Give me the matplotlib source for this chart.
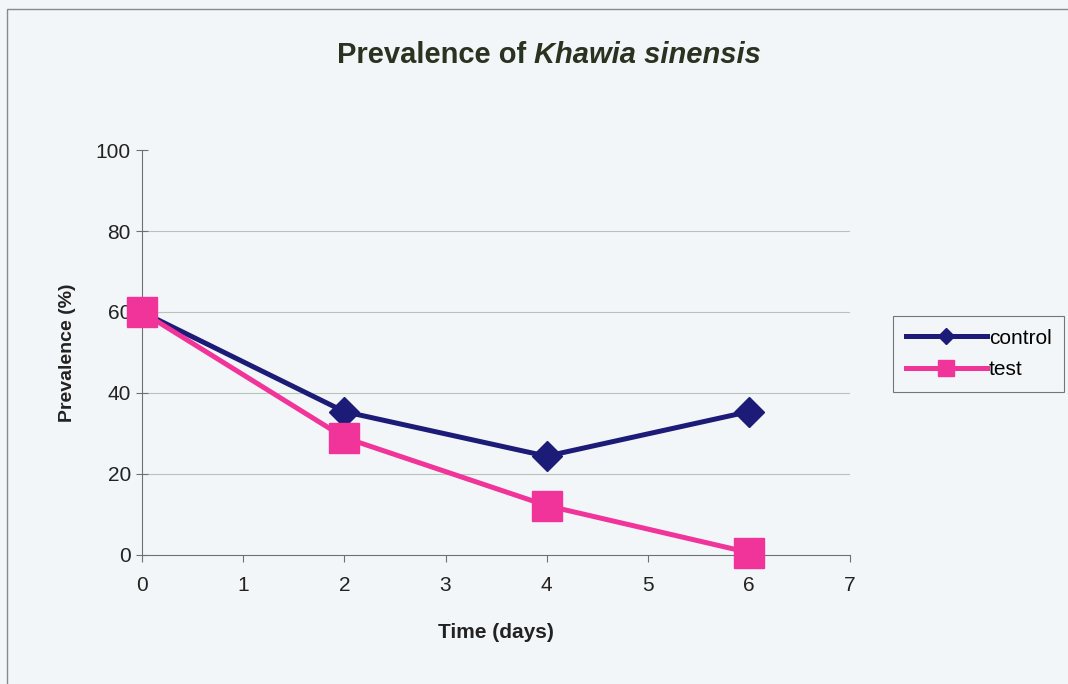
import matplotlib.pyplot as plt
from matplotlib.patches import Rectangle

days = [0, 2, 4, 6]
control = [60, 35.4, 24.4, 35.4]
test = [60, 29, 12.2, 0.6]

bg = "#f2f6f9"
plt.rcParams['font.family'] = ['Liberation Sans', 'DejaVu Sans']

fig = plt.figure(figsize=(10.68, 6.84), dpi=100, facecolor=bg)
ax = fig.add_axes([0.133, 0.1886, 0.663, 0.5921], facecolor=bg)

# outer chart border
fig.patches.append(Rectangle((0.007, -0.01), 1.0, 0.997, transform=fig.transFigure,
                             fill=False, edgecolor="#8a8a8a", linewidth=1.0))

for y in [20, 40, 60, 80]:
    ax.axhline(y, color="#b8c4b8", linewidth=0.8, zorder=0)

ax.plot(days, control, color="#1c1c78", linewidth=3.6, marker="D", markersize=15,
        label="control", zorder=3, clip_on=False)
ax.plot(days, test, color="#f0349a", linewidth=3.6, marker="s", markersize=21,
        label="test", zorder=4, clip_on=False)

ax.set_xlim(0, 7)
ax.set_ylim(0, 100)
ax.set_xticks(range(0, 8))
ax.set_yticks(range(0, 101, 20))
ax.spines['top'].set_visible(False)
ax.spines['right'].set_visible(False)
ax.spines['left'].set_color("#707070")
ax.spines['bottom'].set_color("#707070")
ax.tick_params(axis='both', labelsize=15, colors="#707070", labelcolor="#222222", length=5)
ax.tick_params(axis='y', direction='inout', length=8, pad=4)
ax.tick_params(axis='x', pad=10)

ax.set_xlabel("Time (days)", fontsize=15, fontweight="bold", color="#222222", labelpad=20)
ax.set_ylabel("Prevalence (%)", fontsize=14, fontweight="bold", color="#222222", labelpad=14)

fig.text(0.5, 0.92, "Prevalence of ", ha="right", va="center", fontsize=21,
         fontweight="bold", color="#2a3320")
fig.text(0.5, 0.92, "Khawia sinensis", ha="left", va="center", fontsize=21,
         fontweight="bold", style="italic", color="#2a3320")

leg = ax.legend(loc="center left", bbox_to_anchor=(893 / 1068, 1 - 354 / 684),
                bbox_transform=fig.transFigure, borderaxespad=0, fontsize=15,
                frameon=True, fancybox=False, edgecolor="#555555",
                handlelength=3.9, markerscale=0.55, borderpad=0.6,
                handletextpad=0.1, labelspacing=0.6)
leg.get_frame().set_facecolor(bg)
leg.get_frame().set_linewidth(0.8)

fig.savefig("out.png", dpi=100, facecolor=bg)
